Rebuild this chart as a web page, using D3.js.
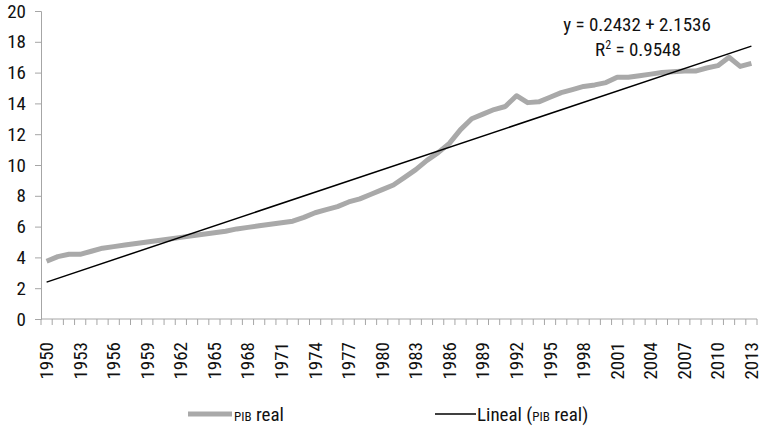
<!DOCTYPE html>
<html><head><meta charset="utf-8">
<script src="https://cdn.jsdelivr.net/npm/d3@7"></script>
<style>
body{margin:0;background:#fff;}
text{font-family:"Liberation Sans Narrow","Roboto Condensed","DejaVu Sans Condensed",sans-serif;fill:#111;}
</style></head>
<body><svg id="c" width="766" height="429"></svg>
<script>
const years = d3.range(1950, 2014);
const pibReal = [3.75,4.05,4.2,4.2,4.4,4.6,4.7,4.8,4.9,5.0,5.1,5.2,5.3,5.4,5.5,5.6,5.7,5.85,5.95,6.05,
  6.15,6.25,6.35,6.6,6.9,7.1,7.3,7.6,7.8,8.1,8.4,8.7,9.2,9.7,10.3,10.8,11.4,12.3,13.0,13.3,
  13.6,13.8,14.5,14.05,14.1,14.4,14.7,14.9,15.1,15.2,15.35,15.7,15.7,15.8,15.9,16.0,16.05,16.1,16.1,16.3,
  16.45,17.0,16.4,16.6];
const yTicks = [0,2,4,6,8,10,12,14,16,18,20];
const tickYears = years.filter(y => (y-1950)%3===0);
const trendSlope = 0.2432, trendIntercept = 2.1536;
const eqLines = ["y = 0.2432 + 2.1536", "R² = 0.9548"];

const svg = d3.select("#c");
const L=41, R=757, T=11, B=319;
const x = d3.scaleBand().domain(years).range([L,R]);
const xc = d => x(d) + x.bandwidth()/2;
const y = d3.scaleLinear().domain([0,20]).range([B,T]);
const axisCol = "#a6a6a6";

// Y axis
const ya = svg.append("g").attr("transform",`translate(${L},0)`)
  .call(d3.axisLeft(y).tickValues(yTicks).tickSize(6).tickPadding(9));
ya.select(".domain").attr("stroke",axisCol);
ya.selectAll(".tick line").attr("stroke",axisCol);
ya.selectAll(".tick text").attr("font-size",19).attr("fill","#111")
  .style("font-family",'"Liberation Sans Narrow","Roboto Condensed","DejaVu Sans Condensed",sans-serif');

// X axis: ticks at category boundaries
const xg = svg.append("g");
xg.append("line").attr("x1",L).attr("x2",R).attr("y1",B).attr("y2",B).attr("stroke",axisCol);
const bounds = years.map(d=>x(d)).concat([R]);
xg.selectAll("line.t").data(bounds).enter().append("line").attr("class","t")
  .attr("x1",d=>d).attr("x2",d=>d).attr("y1",B).attr("y2",B+6).attr("stroke",axisCol);
xg.selectAll("text").data(tickYears).enter().append("text")
  .attr("transform",d=>`translate(${xc(d)+6.5},342) rotate(-90)`)
  .attr("text-anchor","end").attr("font-size",19).text(d=>d);

// Data line
const line = d3.line().x((d,i)=>xc(years[i])).y(d=>y(d));
svg.append("path").datum(pibReal).attr("d",line).attr("fill","none")
  .attr("stroke","#a9a9a9").attr("stroke-width",5).attr("stroke-linejoin","round");

// Trend line
const trend = years.map((yr,i)=>trendIntercept + trendSlope*(i+1));
svg.append("path").datum([trend[0],trend[trend.length-1]])
  .attr("d",d3.line().x((d,i)=>i===0?xc(years[0]):xc(years[years.length-1])).y(d=>y(d)))
  .attr("fill","none").attr("stroke","#000").attr("stroke-width",1.5);

// Equation
svg.append("text").attr("x",637).attr("y",31).attr("text-anchor","middle").attr("font-size",19).text(eqLines[0]);
const r2 = svg.append("text").attr("x",638).attr("y",56).attr("text-anchor","middle").attr("font-size",19);
r2.append("tspan").text("R");
r2.append("tspan").attr("font-size",12).attr("dy",-7).text("2");
r2.append("tspan").attr("dy",7).text(" = 0.9548");

// Legend
const ly = 414;
svg.append("line").attr("x1",188).attr("x2",232).attr("y1",ly).attr("y2",ly).attr("stroke","#a9a9a9").attr("stroke-width",5);
const t1 = svg.append("text").attr("x",234).attr("y",421).attr("font-size",19);
t1.append("tspan").attr("font-size",13).text("PIB");
t1.append("tspan").text(" real");
svg.append("line").attr("x1",435).attr("x2",476).attr("y1",ly).attr("y2",ly).attr("stroke","#000").attr("stroke-width",1.5);
const t2 = svg.append("text").attr("x",477).attr("y",421).attr("font-size",19);
t2.append("tspan").text("Lineal (");
t2.append("tspan").attr("font-size",13).text("PIB");
t2.append("tspan").text(" real)");
</script></body></html>
